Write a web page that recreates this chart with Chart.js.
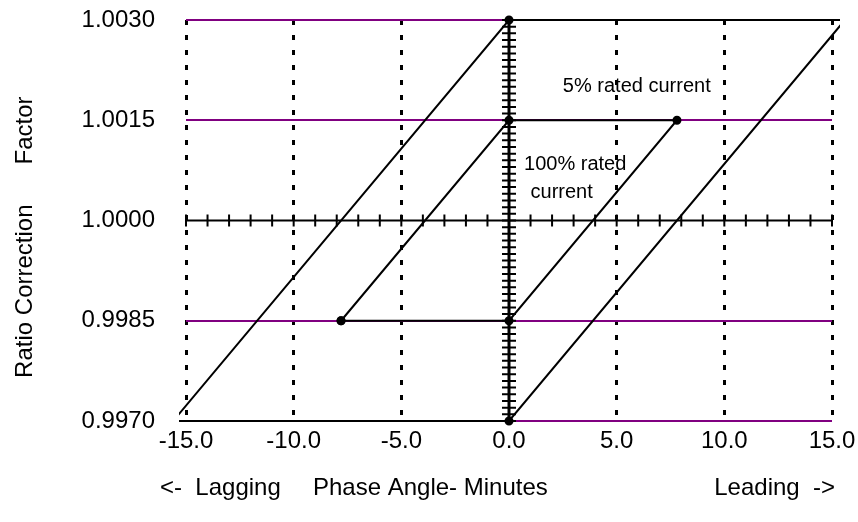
<!DOCTYPE html>
<html>
<head>
<meta charset="utf-8">
<script src="https://cdn.jsdelivr.net/npm/chart.js@4"></script>
<style>
  html, body { margin: 0; padding: 0; background: #fff; }
  #chart { display: block; }
</style>
</head>
<body>
<canvas id="chart" width="858" height="522"></canvas>
<script>
// tick labels
const xTicks = [-15, -10, -5, 0, 5, 10, 15];
const yTicks = [0.9970, 0.9985, 1.0000, 1.0015, 1.0030];

// 5% rated current limit (outer parallelogram)
const fiveX = [-15.6, 0, 15.6, 0, -15.6];
const fiveY = [0.9970, 0.9970, 1.0030, 1.0030, 0.9970];
const fiveDots = [0, 1, 0, 1, 0];

// 100% rated current limit (inner parallelogram)
const fullX = [-7.8, 0, 7.8, 0, -7.8];
const fullY = [0.9985, 0.9985, 1.0015, 1.0015, 0.9985];
const fullDots = [1, 1, 1, 1, 1];

const FONT = '"Liberation Sans", Arial, sans-serif';
const PURPLE = '#800080';

const toPts = (xs, ys) => xs.map((x, i) => ({ x, y: ys[i] }));

// axes crossing at (0, 1.0000) with tick marks on both sides
const crossAxes = {
  id: 'crossAxes',
  beforeDatasetsDraw(chart) {
    const { ctx, scales: { x, y } } = chart;
    const x0 = x.getPixelForValue(0), y0 = y.getPixelForValue(1);
    ctx.save();
    ctx.strokeStyle = '#000';
    ctx.lineWidth = 2;
    ctx.beginPath();
    ctx.moveTo(x.left, y0); ctx.lineTo(x.right, y0);
    for (let i = -15; i <= 15; i++) {
      const px = x.getPixelForValue(i);
      ctx.moveTo(px, y0 - 6); ctx.lineTo(px, y0 + 6);
    }
    ctx.stroke();
    ctx.lineWidth = 3;
    ctx.beginPath();
    ctx.moveTo(x0, y.top); ctx.lineTo(x0, y.bottom);
    ctx.stroke();
    ctx.lineWidth = 2;
    ctx.beginPath();
    for (let k = 0; k <= 60; k++) {
      const py = y.getPixelForValue(0.997 + k * 0.0001);
      ctx.moveTo(x0 - 7, py); ctx.lineTo(x0 + 7, py);
    }
    ctx.stroke();
    ctx.restore();
  }
};

// text labels inside the plot, and the three-part x axis title
const notes = {
  id: 'notes',
  afterDatasetsDraw(chart) {
    const { ctx, scales: { x, y } } = chart;
    ctx.save();
    ctx.fillStyle = '#000';
    ctx.font = '20px ' + FONT;
    ctx.textBaseline = 'middle';
    ctx.fillText('5% rated current', x.getPixelForValue(2.5), y.getPixelForValue(1.00200));
    ctx.fillText('100% rated', x.getPixelForValue(0.7), y.getPixelForValue(1.000833));
    ctx.fillText('current', x.getPixelForValue(1.0), y.getPixelForValue(1.000414));

    ctx.font = '24px ' + FONT;
    const ty = x.bottom - 34;
    ctx.textAlign = 'left';
    ctx.fillText('<-  Lagging', x.left - 26, ty);
    ctx.fillText('Phase Angle- Minutes', x.left + 127, ty);
    ctx.textAlign = 'right';
    ctx.fillText('Leading  ->', x.right + 3, ty);
    ctx.restore();
  }
};

const lineDs = (label, xs, ys, dots) => ({
  label,
  data: toPts(xs, ys),
  showLine: true,
  borderColor: '#000',
  backgroundColor: '#000',
  borderWidth: 2,
  pointRadius: dots.map(d => d ? 3.5 : 0),
  pointHoverRadius: 0,
  clip: { left: 7, right: 8, top: 5, bottom: 5 },
});

new Chart(document.getElementById('chart'), {
  type: 'scatter',
  data: {
    datasets: [
      lineDs('5% rated current', fiveX, fiveY, fiveDots),
      lineDs('100% rated current', fullX, fullY, fullDots),
    ]
  },
  options: {
    responsive: false,
    animation: false,
    events: [],
    layout: { padding: { top: 20, right: 26, left: 0, bottom: 0 } },
    plugins: { legend: { display: false }, tooltip: { enabled: false } },
    scales: {
      x: {
        type: 'linear', min: -15, max: 15,
        afterBuildTicks: s => { s.ticks = xTicks.map(v => ({ value: v })); },
        afterFit: s => { s.height = 101; s.paddingLeft = 0; s.paddingRight = 0; },
        grid: {
          color: c => c.tick && c.tick.value === 0 ? 'rgba(0,0,0,0)' : '#000',
          lineWidth: 3, drawTicks: false,
        },
        border: { display: false, dash: [5, 10] },
        ticks: {
          color: '#000', font: { family: FONT, size: 24 }, padding: 6,
          maxRotation: 0, callback: v => v.toFixed(1),
        },
      },
      y: {
        type: 'linear', min: 0.997, max: 1.003,
        afterBuildTicks: s => { s.ticks = yTicks.map(v => ({ value: v })); },
        afterFit: s => { s.width = 186; s.paddingTop = 0; s.paddingBottom = 0; },
        grid: {
          color: c => c.tick && Math.abs(c.tick.value - 1) < 1e-9 ? 'rgba(0,0,0,0)' : PURPLE,
          lineWidth: 2, drawTicks: false,
        },
        border: { display: false },
        ticks: {
          color: '#000', font: { family: FONT, size: 24 }, padding: 31,
          callback: v => v.toFixed(4),
        },
        title: {
          display: true, color: '#000', font: { family: FONT, size: 24 },
          text: 'Ratio Correction      Factor     ',
          padding: { top: 11, bottom: 0 },
        },
      },
    },
  },
  plugins: [crossAxes, notes],
});
</script>
</body>
</html>
